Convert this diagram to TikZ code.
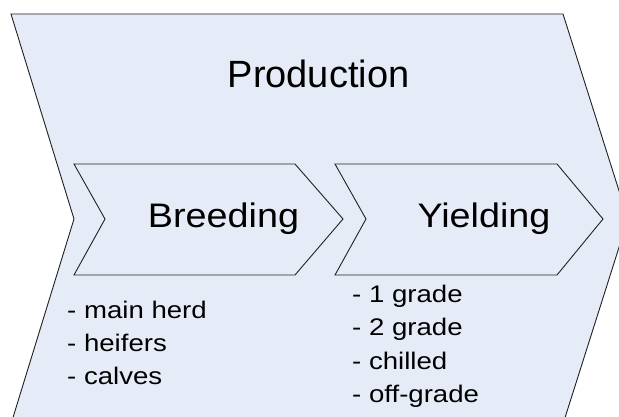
\documentclass[tikz,border=0pt]{standalone}
\usepackage{fontspec}
\setmainfont{Liberation Sans}
\definecolor{chevfill}{HTML}{E6ECF7}
\definecolor{chevline}{HTML}{202020}
\newcommand\wideText[2]{\scalebox{#1}[1]{#2}}
\begin{document}
\begin{tikzpicture}[x=1pt,y=-1pt,
  chev/.style={fill=chevfill,draw=chevline,line width=0.9pt,line join=miter},
  title/.style={font=\fontsize{38}{44}\selectfont,anchor=base,inner sep=0pt},
  stage/.style={font=\fontsize{34}{40}\selectfont,anchor=base,inner sep=0pt},
  item/.style={font=\fontsize{24}{28}\selectfont,anchor=base west,inner sep=0pt}]
\useasboundingbox (0,0) rectangle (619,417);
\clip (0,0) rectangle (619,417);
% outer chevron
\draw[chev] (11,14) -- (563,14) -- (628,219) -- (563,424) -- (11,424) -- (74,219) -- cycle;
% inner chevrons
\draw[chev] (74,164) -- (295,164) -- (343,219) -- (295,275) -- (74,275) -- (105,219) -- cycle;
\draw[chev] (335,164) -- (557,164) -- (603,219) -- (557,275) -- (335,275) -- (366,219) -- cycle;
% texts
\node[title] (prod) at (318.5,88) {Production};
\node[stage] (breed) at (223.5,227) {\wideText{1.11}{Breeding}};
\node[stage] (yield) at (484,227) {\wideText{1.11}{Yielding}};
\node[item] (l1) at (67,318) {\wideText{1.15}{- main herd}};
\node[item] (l2) at (67,351) {\wideText{1.15}{- heifers}};
\node[item] (l3) at (67,384) {\wideText{1.15}{- calves}};
\node[item] (r1) at (352,302) {\wideText{1.15}{- 1 grade}};
\node[item] (r2) at (352,335) {\wideText{1.15}{- 2 grade}};
\node[item] (r3) at (352,369) {\wideText{1.15}{- chilled}};
\node[item] (r4) at (352,402) {\wideText{1.15}{- off-grade}};
\end{tikzpicture}
\end{document}
